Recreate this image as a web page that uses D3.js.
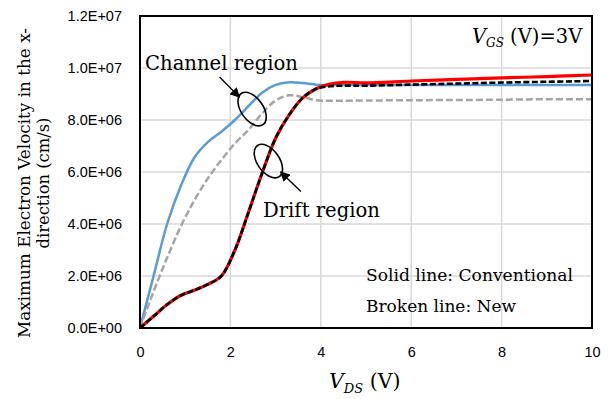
<!DOCTYPE html>
<html>
<head>
<meta charset="utf-8">
<script src="https://cdn.jsdelivr.net/npm/d3@7"></script>
<style>
  body { margin: 0; background: #fff; }
  svg { display: block; }
</style>
</head>
<body>
<div id="chart"></div>
<script>
// V_DS (V) sample points shared by all curves
var vds = [0, 0.3, 0.6, 0.9, 1.2, 1.5, 1.8, 2.1, 2.4, 2.7, 3.0, 3.3, 3.6, 3.9, 4.2, 4.5, 5, 6, 7, 8, 9, 10];

// maximum electron velocity, units of 1e6 cm/s
var channelConventional = [0, 2.0, 4.0, 5.45, 6.55, 7.15, 7.55, 8.0, 8.53, 9.05, 9.35, 9.45, 9.42, 9.36, 9.35, 9.35, 9.35, 9.35, 9.35, 9.35, 9.35, 9.35];
var channelNew = [0, 1.4, 2.7, 3.9, 4.9, 5.75, 6.46, 7.1, 7.62, 8.25, 8.75, 8.95, 8.88, 8.76, 8.74, 8.74, 8.75, 8.76, 8.77, 8.78, 8.8, 8.8];
var driftConventional = [0, 0.45, 0.9, 1.25, 1.45, 1.68, 2.0, 3.0, 4.45, 5.95, 7.3, 8.2, 8.85, 9.2, 9.38, 9.45, 9.43, 9.5, 9.56, 9.62, 9.67, 9.73];
var driftNew = [0, 0.45, 0.9, 1.25, 1.45, 1.68, 2.0, 3.0, 4.45, 5.95, 7.3, 8.2, 8.85, 9.2, 9.3, 9.32, 9.32, 9.36, 9.4, 9.44, 9.47, 9.5];

var xTicks = [0, 2, 4, 6, 8, 10];
var yTicks = [0, 2e6, 4e6, 6e6, 8e6, 1e7, 1.2e7];

var series = [
    {name: 'channelConventional', values: channelConventional, color: '#5b9bd5', width: 2.5, dash: null},
    {name: 'channelNew', values: channelNew, color: '#a5a5a5', width: 2.5, dash: '7,3'},
    {name: 'driftConventional', values: driftConventional, color: '#ff0000', width: 3.2, dash: null},
    {name: 'driftNew', values: driftNew, color: '#000000', width: 2.6, dash: '6,2.5'}
];

var W = 614, H = 399,
    margin = {left: 140, right: 22, top: 16, bottom: 71},
    width = W - margin.left - margin.right,
    height = H - margin.top - margin.bottom;

var serif = "'DejaVu Serif', serif",
    sans = "'Liberation Sans', Arial, sans-serif";

var svg = d3.select('#chart').append('svg')
    .attr('width', W)
    .attr('height', H);

var x = d3.scaleLinear().domain([0, 10]).range([0, width]);
var y = d3.scaleLinear().domain([0, 1.2e7]).range([height, 0]);

var g = svg.append('g')
    .attr('transform', 'translate(' + margin.left + ',' + margin.top + ')');

function sci (v) {
    if (v === 0) return '0.0E+00';
    var e = Math.floor(Math.log10(v) + 1e-9),
        m = v / Math.pow(10, e);
    return m.toFixed(1) + 'E+' + (e < 10 ? '0' : '') + e;
}

// grid
g.append('g').selectAll('line.v')
    .data(xTicks.slice(1, -1))
    .enter().append('line')
    .attr('x1', d => x(d)).attr('x2', d => x(d))
    .attr('y1', 0).attr('y2', height)
    .attr('stroke', '#d9d9d9').attr('stroke-width', 1.5);

g.append('g').selectAll('line.h')
    .data(yTicks.slice(1, -1))
    .enter().append('line')
    .attr('x1', 0).attr('x2', width)
    .attr('y1', d => y(d)).attr('y2', d => y(d))
    .attr('stroke', '#d9d9d9').attr('stroke-width', 1.5);

// axes
var xAxis = d3.axisBottom(x).tickValues(xTicks).tickSize(0).tickPadding(19).tickFormat(d3.format('d'));
var yAxis = d3.axisLeft(y).tickValues(yTicks).tickSize(0).tickPadding(18).tickFormat(sci);

g.append('g')
    .attr('transform', 'translate(0,' + height + ')')
    .call(xAxis)
    .call(s => s.select('.domain').remove())
    .selectAll('text')
    .attr('font-family', sans).attr('font-size', 14.5).attr('fill', '#000');

g.append('g')
    .call(yAxis)
    .call(s => s.select('.domain').remove())
    .selectAll('text')
    .attr('font-family', sans).attr('font-size', 14.5).attr('fill', '#000');

// curves
var line = d3.line()
    .x((d, i) => x(vds[i]))
    .y(d => y(d * 1e6))
    .curve(d3.curveCatmullRom.alpha(0.5));

g.append('g').selectAll('path')
    .data(series)
    .enter().append('path')
    .attr('d', d => line(d.values))
    .attr('fill', 'none')
    .attr('stroke', d => d.color)
    .attr('stroke-width', d => d.width)
    .attr('stroke-dasharray', d => d.dash)
    .attr('stroke-linejoin', 'round');

// plot border
g.append('rect')
    .attr('width', width).attr('height', height)
    .attr('fill', 'none').attr('stroke', '#000').attr('stroke-width', 2);

// annotations (data coordinates)
var defs = svg.append('defs');
defs.append('marker')
    .attr('id', 'head')
    .attr('viewBox', '0 0 10 10')
    .attr('refX', 9).attr('refY', 5)
    .attr('markerWidth', 10).attr('markerHeight', 10)
    .attr('markerUnits', 'userSpaceOnUse')
    .attr('orient', 'auto')
    .append('path').attr('d', 'M0,0 L10,5 L0,10 z').attr('fill', '#000');

var ellipses = [
    {cx: 2.48, cy: 8.42e6, rx: 19, ry: 11, rot: 55},
    {cx: 2.84, cy: 6.42e6, rx: 19, ry: 11, rot: 55}
];
var arrows = [
    {x1: 1.76, y1: 9.65e6, x2: 2.2, y2: 8.88e6},
    {x1: 3.56, y1: 5.25e6, x2: 3.11, y2: 6.0e6}
];

g.append('g').selectAll('ellipse')
    .data(ellipses)
    .enter().append('ellipse')
    .attr('transform', d => 'translate(' + x(d.cx) + ',' + y(d.cy) + ') rotate(' + d.rot + ')')
    .attr('rx', d => d.rx).attr('ry', d => d.ry)
    .attr('fill', 'none').attr('stroke', '#000').attr('stroke-width', 1.6);

g.append('g').selectAll('line')
    .data(arrows)
    .enter().append('line')
    .attr('x1', d => x(d.x1)).attr('y1', d => y(d.y1))
    .attr('x2', d => x(d.x2)).attr('y2', d => y(d.y2))
    .attr('stroke', '#000').attr('stroke-width', 1.4)
    .attr('marker-end', 'url(#head)');

// text labels
svg.append('text')
    .attr('x', 145).attr('y', 70)
    .attr('font-family', serif).attr('font-size', 19.5)
    .attr('textLength', 153).attr('lengthAdjust', 'spacingAndGlyphs')
    .text('Channel region');

svg.append('text')
    .attr('x', 263).attr('y', 217)
    .attr('font-family', serif).attr('font-size', 19.5)
    .attr('textLength', 117).attr('lengthAdjust', 'spacingAndGlyphs')
    .text('Drift region');

svg.append('text')
    .attr('x', 366).attr('y', 281)
    .attr('font-family', serif).attr('font-size', 16.5)
    .attr('textLength', 207).attr('lengthAdjust', 'spacingAndGlyphs')
    .text('Solid line: Conventional');

svg.append('text')
    .attr('x', 366).attr('y', 312)
    .attr('font-family', serif).attr('font-size', 16.5)
    .attr('textLength', 150).attr('lengthAdjust', 'spacingAndGlyphs')
    .text('Broken line: New');

var vgs = svg.append('text')
    .attr('x', 472).attr('y', 43)
    .attr('font-family', serif).attr('font-size', 19.5);
vgs.append('tspan').attr('font-style', 'italic').text('V');
vgs.append('tspan').attr('font-style', 'italic').attr('font-size', 12).attr('dy', 4).text('GS');
vgs.append('tspan').attr('dy', -4).text(' (V)=3V');

var xl = svg.append('text')
    .attr('x', 329).attr('y', 388)
    .attr('font-family', serif).attr('font-size', 20.5);
xl.append('tspan').attr('font-style', 'italic').text('V');
xl.append('tspan').attr('font-style', 'italic').attr('font-size', 13).attr('dy', 5).text('DS');
xl.append('tspan').attr('dy', -5).text(' (V)');

var yl = svg.append('text')
    .attr('transform', 'translate(0,183) rotate(-90)')
    .attr('font-family', serif).attr('font-size', 17)
    .attr('text-anchor', 'middle');
yl.append('tspan').attr('x', 0).attr('y', 30)
    .attr('textLength', 310).attr('lengthAdjust', 'spacingAndGlyphs')
    .text('Maximum Electron Velocity in the x-');
yl.append('tspan').attr('x', 0).attr('y', 49)
    .attr('textLength', 131).attr('lengthAdjust', 'spacingAndGlyphs')
    .text('direction (cm/s)');
</script>
</body>
</html>
